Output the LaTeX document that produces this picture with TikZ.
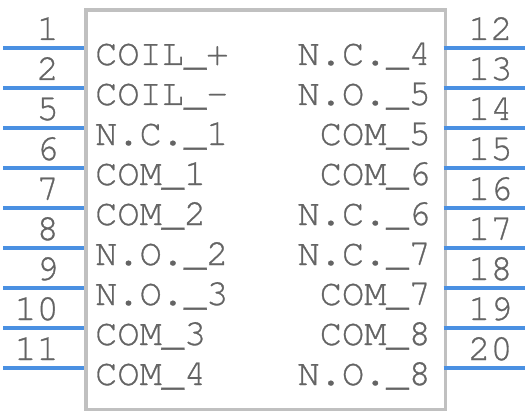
\documentclass[tikz,border=0pt]{standalone}
\usepackage{fontspec}
\setmainfont{texgyrecursor-regular.otf}[FakeBold=0.8]
\definecolor{pinblue}{RGB}{74,144,226}
\definecolor{boxgray}{RGB}{192,192,192}
\definecolor{txtgray}{RGB}{100,100,100}
\begin{document}
\begin{tikzpicture}[x=1pt,y=-1pt,
  pinline/.style={draw=pinblue,line width=3.5pt},
  lbl/.style={inner sep=0pt,text=txtgray,font=\bfseries\fontsize{37}{37}\selectfont},
  lft/.style={lbl,anchor=base west},
  rgt/.style={lbl,anchor=base east},
  numl/.style={lbl,anchor=base east},
  numr/.style={lbl,anchor=base west}]
\useasboundingbox (0,0) rectangle (528,412);
\node[draw=boxgray,line width=3.5pt,minimum width=359.5pt,minimum height=399pt,inner sep=0pt,anchor=north west] (box) at (84,8.5) {};
\foreach \n/\t [count=\i from 0] in {1/COIL\_+,2/COIL\_-,5/N.C.\_1,6/COM\_1,7/COM\_2,8/N.O.\_2,9/N.O.\_3,10/COM\_3,11/COM\_4}{
  \coordinate (la\i) at (3,48+40*\i);
  \coordinate (lb\i) at (84,48+40*\i);
  \draw[pinline] (la\i) -- (lb\i);
  \node[numl] (ln\i) at (59,40+40*\i) {\n};
  \node[lft] (lt\i) at (95,65+40*\i) {\t};
}
\foreach \n/\t [count=\i from 0] in {12/N.C.\_4,13/N.O.\_5,14/COM\_5,15/COM\_6,16/N.C.\_6,17/N.C.\_7,18/COM\_7,19/COM\_8,20/N.O.\_8}{
  \coordinate (ra\i) at (443.5,48+40*\i);
  \coordinate (rb\i) at (525,48+40*\i);
  \draw[pinline] (ra\i) -- (rb\i);
  \node[numr] (rn\i) at (468,40+40*\i) {\n};
  \node[rgt] (rt\i) at (431,65+40*\i) {\t};
}
\end{tikzpicture}
\end{document}
